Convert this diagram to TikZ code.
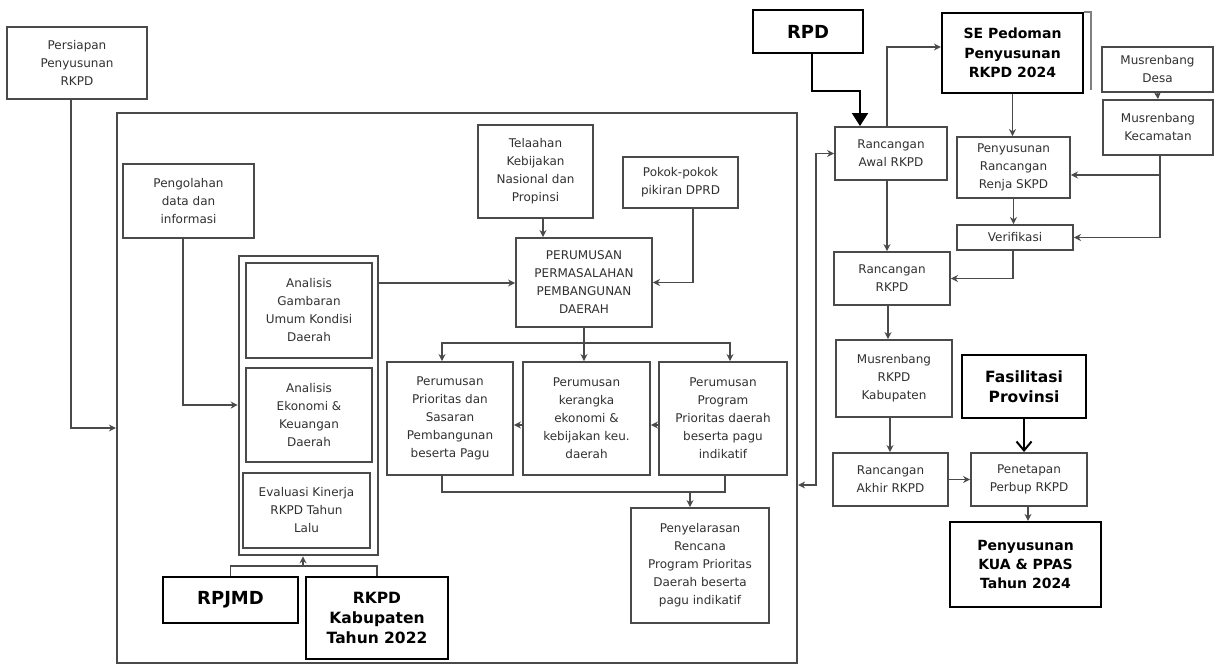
\documentclass[tikz,border=0pt]{standalone}
\usepackage{fontspec}
\setmainfont{DejaVu Sans}
\usetikzlibrary{arrows.meta}
\definecolor{lgray}{HTML}{4A4A4A}
\definecolor{tgray}{HTML}{303030}
\begin{document}
\begin{tikzpicture}[x=1pt,y=-1pt,
  sz/.style 2 args={minimum width=#1pt, minimum height=#2pt},
  bx/.style={draw=lgray, line width=1.9pt, text=tgray, inner sep=0pt, align=center, font=\fontsize{12}{18}\selectfont},
  bb/.style={draw=black, line width=2.2pt, fill=white, text=black, inner sep=0pt, align=center},
  wire/.style={draw=lgray, line width=1.7pt},
  con/.style={wire, -{Stealth[length=7pt,width=7pt]}},
  bicon/.style={wire, {Stealth[length=7pt,width=7pt]}-{Stealth[length=7pt,width=7pt]}},
  bkarrow/.style={draw=black, line width=2pt, -{Triangle[length=13pt,width=16pt]}},
  openarrow/.style={draw=black, line width=2pt, -{Straight Barb[length=9pt,width=15pt]}}
]
\useasboundingbox (0,0) rectangle (1215,667);

% containers
\node[draw=lgray, line width=2.2pt, sz={680}{550}, inner sep=0pt] (frame) at (457,388) {};
\node[draw=lgray, line width=2.6pt, sz={139}{299}, inner sep=0pt] (leftcol) at (308.5,405.5) {};

% grey boxes
\node[bx, sz={140}{72}] (persiapan) at (77,63) {Persiapan\\Penyusunan\\RKPD};
\node[bx, sz={131}{74}] (pengolahan) at (188.5,201) {Pengolahan\\data dan\\informasi};
\node[bx, sz={126}{95}] (gambaran) at (309,310.5) {Analisis\\Gambaran\\Umum Kondisi\\Daerah};
\node[bx, sz={126}{94}] (ekonomi) at (309,415) {Analisis\\Ekonomi \&\\Keuangan\\Daerah};
\node[bx, sz={127}{75}] (evaluasi) at (306.5,510.5) {Evaluasi Kinerja\\RKPD Tahun\\Lalu};
\node[bx, sz={115}{93}] (telaahan) at (535.5,171.5) {Telaahan\\Kebijakan\\Nasional dan\\Propinsi};
\node[bx, sz={115}{51}] (pokok) at (680.5,182.5) {Pokok-pokok\\pikiran DPRD};
\node[bx, sz={136}{89}] (perumusan) at (584,282.5) {PERUMUSAN\\PERMASALAHAN\\PEMBANGUNAN\\DAERAH};
\node[bx, sz={126}{113}] (p1) at (450,418.5) {Perumusan\\Prioritas dan\\Sasaran\\Pembangunan\\beserta Pagu};
\node[bx, sz={127}{113}] (p2) at (586.5,418.5) {Perumusan\\kerangka\\ekonomi \&\\kebijakan keu.\\daerah};
\node[bx, sz={128}{113}] (p3) at (723,418.5) {Perumusan\\Program\\Prioritas daerah\\beserta pagu\\indikatif};
\node[bx, sz={138}{115}] (penyelarasan) at (700,565.5) {Penyelarasan\\Rencana\\Program Prioritas\\Daerah beserta\\pagu indikatif};

\node[bx, sz={112}{53}] (awal) at (891,153.5) {Rancangan\\Awal RKPD};
\node[bx, sz={113}{61}] (renja) at (1013.5,167.5) {Penyusunan\\Rancangan\\Renja SKPD};
\node[bx, sz={111}{45}] (desa) at (1157.5,69.5) {Musrenbang\\Desa};
\node[bx, sz={110}{55}] (kec) at (1158,127.5) {Musrenbang\\Kecamatan};
\node[bx, sz={116}{25}] (verif) at (1015,237.5) {Verifikasi};
\node[bx, sz={116}{53}] (rrkpd) at (892,278.5) {Rancangan\\RKPD};
\node[bx, sz={116}{77}] (musren) at (894,378.5) {Musrenbang\\RKPD\\Kabupaten};
\node[bx, sz={115}{53}] (akhir) at (890.5,479.5) {Rancangan\\Akhir RKPD};
\node[bx, sz={116}{53}] (penetapan) at (1029,479.5) {Penetapan\\Perbup RKPD};

% connectors (grey)
\draw[con] ([xshift=-6pt]persiapan.south) |- (frame.west |- 0,428);
\draw[con] ([xshift=-5.5pt]pengolahan.south) |- (leftcol.west |- 0,405);
\draw[con] (leftcol.east |- 0,283) -- (perumusan.west |- 0,283);
\draw[con] (telaahan.south -| 543,0) -- (perumusan.north -| 543,0);
\draw[con] ([xshift=12.5pt]pokok.south) |- (perumusan.east);
\coordinate (dist) at (perumusan.south |- 0,343);
\draw[wire] (perumusan.south) -- (dist);
\draw[con] (dist) -| ([xshift=-8pt]p1.north);
\draw[con] (dist) -- (p2.north -| dist);
\draw[con] (dist) -| ([xshift=7pt]p3.north);
\draw[con] (p2.west |- 0,425) -- (p1.east |- 0,425);
\draw[con] (p3.west |- 0,425) -- (p2.east |- 0,425);
\coordinate (jn) at ([xshift=-10pt]penyelarasan.north |- 0,492);
\draw[wire] ([xshift=-8pt]p1.south) |- (jn) -| ([xshift=2pt]p3.south);
\draw[con] (jn) -- ([xshift=-10pt]penyelarasan.north);

\draw[bicon] (frame.east |- 0,485) -- ++(18,0) |- (awal.west);
\draw[con] ([xshift=-4pt]awal.south) -- ([xshift=-4pt]awal.south |- rrkpd.north);
\draw[con] (renja.south) -- (renja.south |- verif.north);
\draw[con] (desa.south) -- (kec.north);
\draw[con] ([xshift=2pt]kec.south) |- (verif.east);
\draw[con] ([xshift=2pt]kec.south |- 0,175) -- (renja.east |- 0,175);
\draw[con] ([xshift=-2pt]verif.south) |- (rrkpd.east);
\draw[con] (rrkpd.south -| 888,0) -- (musren.north -| 888,0);
\draw[con] (musren.south -| 890,0) -- (akhir.north -| 890,0);
\draw[con] (akhir.east) -- (penetapan.west);

% bold boxes
\node[bb, sz={135}{46}, font=\bfseries\fontsize{18}{22}\selectfont] (rpjmd) at (230.5,600) {RPJMD};
\node[bb, sz={142}{82}, font=\bfseries\fontsize{15.5}{20}\selectfont] (rkpdkab) at (377,618) {RKPD\\Kabupaten\\Tahun 2022};
\node[bb, sz={110}{43}, font=\bfseries\fontsize{18}{22}\selectfont] (rpd) at (808,31.5) {RPD};
\node[bb, sz={141}{80}, font=\bfseries\fontsize{14}{19.5}\selectfont] (se) at (1012.5,53) {SE Pedoman\\Penyusunan\\RKPD 2024};
\node[bb, sz={124}{63}, font=\bfseries\fontsize{15.5}{20}\selectfont] (fasil) at (1024,386.5) {Fasilitasi\\Provinsi};
\node[bb, sz={151}{85}, font=\bfseries\fontsize{14}{19}\selectfont] (kua) at (1025.5,564.5) {Penyusunan\\KUA \& PPAS\\Tahun 2024};

\coordinate (br) at ([xshift=-5.5pt]leftcol.south |- 0,566);
\draw[wire] (rpjmd.north) |- (br) -| (rkpdkab.north);
\draw[con] (br) -- ([xshift=-5.5pt]leftcol.south);

\draw[con] ([xshift=-4pt]awal.north) |- (se.west |- 0,47);
\draw[wire, gray] (se.north east) -- ++(7,0) -- ++(0,78);
\draw[con] (se.south) -- (se.south |- renja.north);
\draw[con] ([xshift=-1pt]penetapan.south) -- ([xshift=-1pt]penetapan.south |- kua.north);
\draw[bkarrow] ([xshift=4pt]rpd.south) -- ++(0,37) -| ([xshift=-31pt]awal.north);
\draw[openarrow] (fasil.south) -- (fasil.south |- penetapan.north);
\end{tikzpicture}
\end{document}
